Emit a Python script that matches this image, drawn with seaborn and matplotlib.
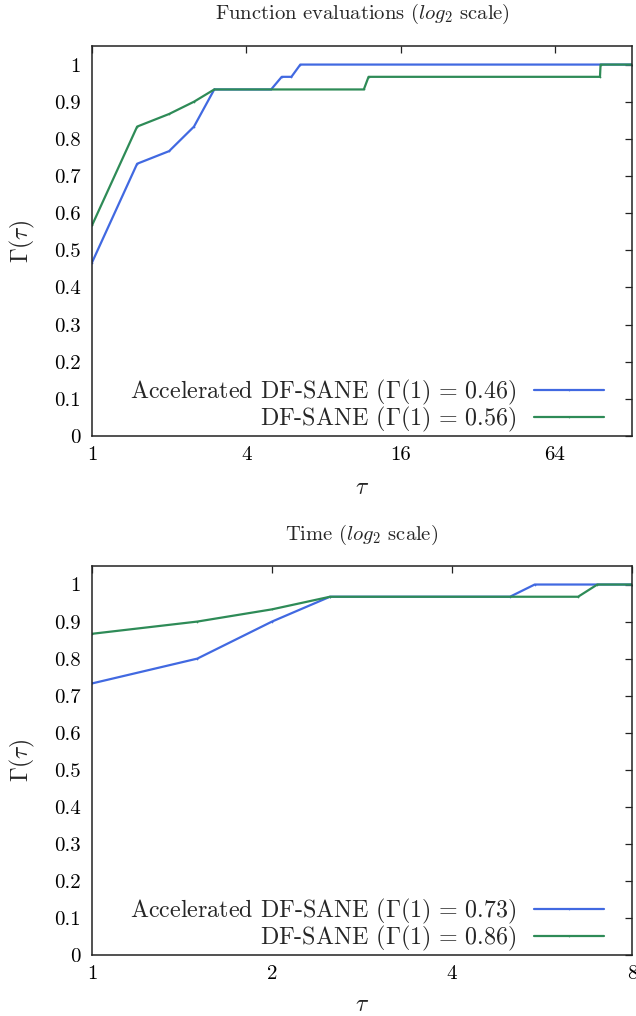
import matplotlib
matplotlib.use("Agg")
import matplotlib.pyplot as plt
import seaborn as sns
import pandas as pd
import numpy as np

# ---------------- data ----------------
methods = ["Accelerated DF-SANE", "DF-SANE"]

fe_tau_acc = [1, 1.5, 2, 2.5, 3, 5, 5.5, 6, 6.5, 128]
fe_val_acc = [0.467, 0.733, 0.767, 0.833, 0.933, 0.933, 0.967, 0.967, 1.0, 1.0]
fe_tau_df = [1, 1.5, 2, 2.5, 3, 11.5, 12, 96, 96.5, 128]
fe_val_df = [0.567, 0.833, 0.867, 0.9, 0.933, 0.933, 0.967, 0.967, 1.0, 1.0]

t_tau_acc = [1, 1.5, 2, 2.5, 5, 5.5, 8]
t_val_acc = [0.733, 0.8, 0.9, 0.967, 0.967, 1.0, 1.0]
t_tau_df = [1, 1.5, 2, 2.5, 6.5, 7, 8]
t_val_df = [0.867, 0.9, 0.933, 0.967, 0.967, 1.0, 1.0]

fe_labels = [r"Accelerated DF-SANE ($\Gamma(1)\,=\,0.46$)", r"DF-SANE ($\Gamma(1)\,=\,0.56$)"]
t_labels = [r"Accelerated DF-SANE ($\Gamma(1)\,=\,0.73$)", r"DF-SANE ($\Gamma(1)\,=\,0.86$)"]

fe_xticks = [1, 4, 16, 64]
t_xticks = [1, 2, 4, 8]
yticks = [0, 0.1, 0.2, 0.3, 0.4, 0.5, 0.6, 0.7, 0.8, 0.9, 1.0]
ytick_labels = ["0", "0.1", "0.2", "0.3", "0.4", "0.5", "0.6", "0.7", "0.8", "0.9", "1"]

colors = ["#4169e1", "#2e8b57"]

# ---------------- style ----------------
sns.set_style("white")
plt.rcParams["font.family"] = ["cmr10", "DejaVu Serif"]
plt.rcParams["mathtext.fontset"] = "cm"
plt.rcParams["axes.unicode_minus"] = False
plt.rcParams["axes.formatter.use_mathtext"] = True

W, H = 636, 1016
AX_L, AX_R = 92, 632
fig = plt.figure(figsize=(W / 100, H / 100), dpi=100)


def make_df(t1, v1, t2, v2, labels):
    d1 = pd.DataFrame({"tau": t1, "gamma": v1, "method": labels[0]})
    d2 = pd.DataFrame({"tau": t2, "gamma": v2, "method": labels[1]})
    return pd.concat([d1, d2], ignore_index=True)


def draw(rect, df, labels, xlim, xticks, title, title_y, xlabel_y):
    ax = fig.add_axes(rect)
    sns.lineplot(data=df, x="tau", y="gamma", hue="method", hue_order=labels,
                 palette=colors, estimator=None, sort=False, ax=ax,
                 linewidth=1.6, marker=".", markersize=2.5, markeredgewidth=0)
    ax.set_xscale("log", base=2)
    ax.set_xlim(*xlim)
    ax.set_ylim(0, 1.05)
    ax.set_xticks(xticks)
    ax.set_xticklabels([str(t) for t in xticks])
    ax.xaxis.set_minor_locator(matplotlib.ticker.NullLocator())
    ax.set_yticks(yticks)
    ax.set_yticklabels(ytick_labels)
    ax.tick_params(direction="in", top=True, right=True, length=5, width=0.9,
                   labelsize=15, colors="#222222", labelcolor="black")
    ax.tick_params(axis="y", pad=8)
    ax.tick_params(axis="x", pad=7)
    for s in ax.spines.values():
        s.set_linewidth(1.1)
        s.set_color("#222222")
    ax.set_xlabel("")
    ax.set_ylabel("")
    cy = rect[1] + rect[3] / 2
    fig.text(22 / W, cy, r"$\Gamma(\tau)$", fontsize=17, rotation=90,
             ha="center", va="center")
    cx = (AX_L + AX_R) / 2 / W
    fig.text(cx, 1 - xlabel_y / H, r"$\tau$", fontsize=17, ha="center", va="center")
    fig.text(cx, 1 - title_y / H, title, fontsize=14.8, ha="center", va="center")
    leg = ax.legend(loc="lower right", bbox_to_anchor=(0.948, 0.004), borderaxespad=0,
                    frameon=False, markerfirst=False, fontsize=17.3,
                    handlelength=2.9, handletextpad=0.75, labelspacing=-0.08,
                    borderpad=0)
    for t in leg.get_texts():
        t.set_ha("right")
    return ax


df_fe = make_df(fe_tau_acc, fe_val_acc, fe_tau_df, fe_val_df, fe_labels)
df_t = make_df(t_tau_acc, t_val_acc, t_tau_df, t_val_df, t_labels)

ax1 = draw([AX_L / W, 1 - 436 / H, (AX_R - AX_L) / W, 390 / H], df_fe, fe_labels, (1, 128),
           fe_xticks, r"Function evaluations ($log_2$ scale)", 14, 488)
ax2 = draw([AX_L / W, 1 - 955 / H, (AX_R - AX_L) / W, 389 / H], df_t, t_labels, (1, 8),
           t_xticks, r"Time ($log_2$ scale)", 535, 1005)

fig.savefig("out.png", dpi=100)
